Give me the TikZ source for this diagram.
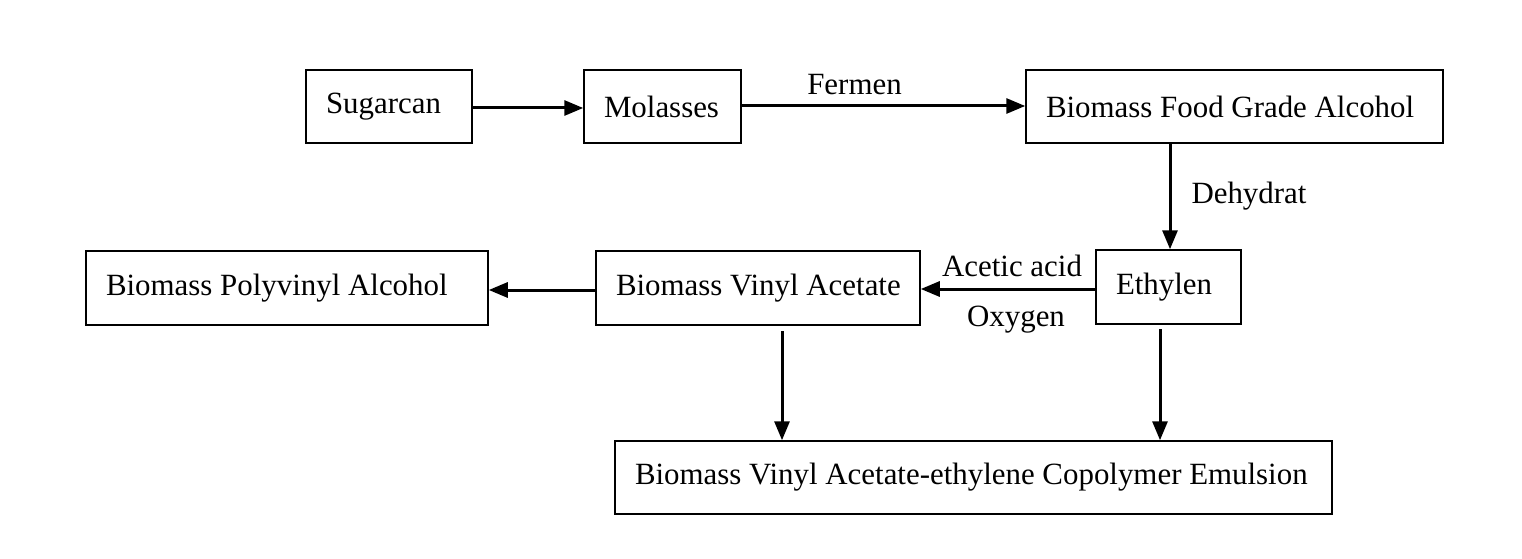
\documentclass[tikz,border=0pt]{standalone}
\usepackage{fontspec}
\setmainfont{Liberation Serif}
\usetikzlibrary{arrows.meta}
\begin{document}
\begin{tikzpicture}[x=1pt,y=-1pt,
  box/.style={draw,line width=1.5pt,inner xsep=20pt,inner ysep=0pt,font=\fontsize{30.9}{36}\selectfont},
  arr/.style={line width=3pt,-{Triangle[length=19pt,width=15pt]}},
  lbl/.style={font=\fontsize{30.9}{36}\selectfont,inner sep=0pt}]
\useasboundingbox (0,0) rectangle (1522,559);
\node[box,minimum height=73pt] (sug) at (389,106.5) {\makebox[126pt][l]{\raisebox{-2pt}{Sugarcan}}};
\node[box,minimum height=73pt] (mol) at (662.5,106.5) {\makebox[117pt][l]{\raisebox{-2pt}{Molasses}}};
\node[box,minimum height=73pt] (food) at (1234.5,106.5) {\makebox[377pt][l]{\raisebox{-2pt}{Biomass Food Grade Alcohol}}};
\node[box,minimum height=74pt] (eth) at (1168.5,287) {\makebox[105pt][l]{\raisebox{-2pt}{Ethylen}}};
\node[box,minimum height=74pt] (bva) at (758,288) {\makebox[284pt][l]{\raisebox{-2pt}{Biomass Vinyl Acetate}}};
\node[box,minimum height=74pt] (bpa) at (287,288) {\makebox[362pt][l]{\raisebox{-2pt}{Biomass Polyvinyl Alcohol}}};
\node[box,minimum height=73pt] (emu) at (973.5,477.5) {\makebox[677pt][l]{\raisebox{-2pt}{Biomass Vinyl Acetate-ethylene Copolymer Emulsion}}};
\draw[arr] (sug.east |- 0,108) -- (mol.west |- 0,108);
\draw[arr] (mol.east |- 0,106) -- node[lbl,above=10pt,xshift=-29pt] {Fermen} (food.west |- 0,106);
\draw[arr] (food.south -| 1170,0) -- node[lbl,right=20pt] {Dehydrat} (eth.north -| 1170,0);
\draw[arr] (eth.west |- 0,289) -- node[lbl,above=11pt,xshift=4pt] {Acetic acid} node[lbl,below=16pt,xshift=8pt] {Oxygen} (bva.east |- 0,289);
\draw[arr] (bva.west |- 0,290) -- (bpa.east |- 0,290);
\coordinate (bvaout) at (782,331);
\coordinate (ethout) at (1160,329);
\draw[arr] (bvaout) -- (emu.north -| bvaout);
\draw[arr] (ethout) -- (emu.north -| ethout);
\end{tikzpicture}
\end{document}
